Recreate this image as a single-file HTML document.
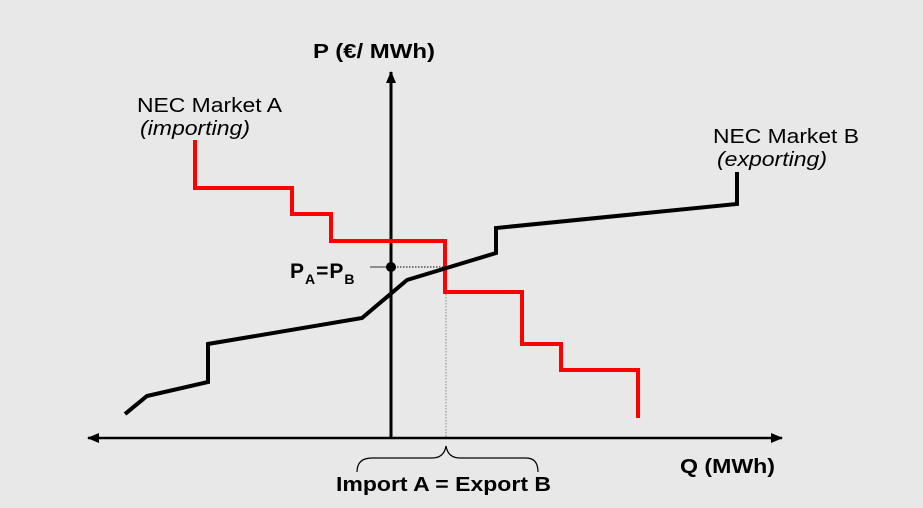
<!DOCTYPE html>
<html><head><style>
body{margin:0;background:#e8e8e8}
svg{display:block}
text{font-family:"Liberation Sans",Arial,sans-serif}
</style></head><body>
<svg width="923" height="508" viewBox="0 0 923 508">
<rect width="923" height="508" fill="#e8e8e8"/>
<defs><marker id="a" markerWidth="12" markerHeight="10" refX="11" refY="5" orient="auto" markerUnits="userSpaceOnUse"><path d="M0,0 L12,5 L0,10 z" fill="#000"/></marker></defs>
<line x1="391" y1="438" x2="391" y2="72" stroke="#000" stroke-width="3" marker-end="url(#a)"/>
<line x1="100" y1="438" x2="782" y2="438" stroke="#000" stroke-width="2.5" marker-end="url(#a)"/>
<line x1="100" y1="438" x2="88" y2="438" stroke="#000" stroke-width="2.5" marker-end="url(#a)"/>
<line x1="391" y1="267" x2="445" y2="267" stroke="#000" stroke-width="1" stroke-dasharray="1.5,1.5"/>
<line x1="446" y1="267" x2="446" y2="438" stroke="#888" stroke-width="1" stroke-dasharray="1.5,1.5"/>
<line x1="370" y1="267" x2="391" y2="267" stroke="#333" stroke-width="1"/>
<polyline points="195,140 195,188 292,188 292,214 331,214 331,241 445,241 445,292 522,292 522,344 561,344 561,370 638,370 638,418" fill="none" stroke="#f00" stroke-width="4"/>
<polyline points="125,414 147,396 208,382 208,344 362,318 407,280 496,253 496,228 737,204 737,172" fill="none" stroke="#000" stroke-width="4"/>
<circle cx="391" cy="267" r="5" fill="#000"/>
<path d="M357,472 Q357,458 372,458 L432,458 Q444,458 446,446 Q448,458 460,458 L526,458 Q538,458 538,472" fill="none" stroke="#000" stroke-width="1.2"/>
<text x="313" y="58" font-size="20" font-weight="bold" textLength="122" lengthAdjust="spacingAndGlyphs">P (€/ MWh)</text>
<text x="137" y="112" font-size="20" textLength="145" lengthAdjust="spacingAndGlyphs">NEC Market A</text>
<text x="140" y="135" font-size="20" font-style="italic" textLength="110" lengthAdjust="spacingAndGlyphs">(importing)</text>
<text x="713" y="143" font-size="20" textLength="146" lengthAdjust="spacingAndGlyphs">NEC Market B</text>
<text x="717" y="166" font-size="20" font-style="italic" textLength="110" lengthAdjust="spacingAndGlyphs">(exporting)</text>
<text x="290" y="278" font-size="21" font-weight="bold" letter-spacing="1">P<tspan font-size="14" dy="6">A</tspan><tspan dy="-6">=P</tspan><tspan font-size="14" dy="6">B</tspan></text>
<text x="680" y="473" font-size="20" font-weight="bold" textLength="95" lengthAdjust="spacingAndGlyphs">Q (MWh)</text>
<text x="336" y="491" font-size="20" font-weight="bold" textLength="215" lengthAdjust="spacingAndGlyphs">Import A = Export B</text>
</svg>
</body></html>
